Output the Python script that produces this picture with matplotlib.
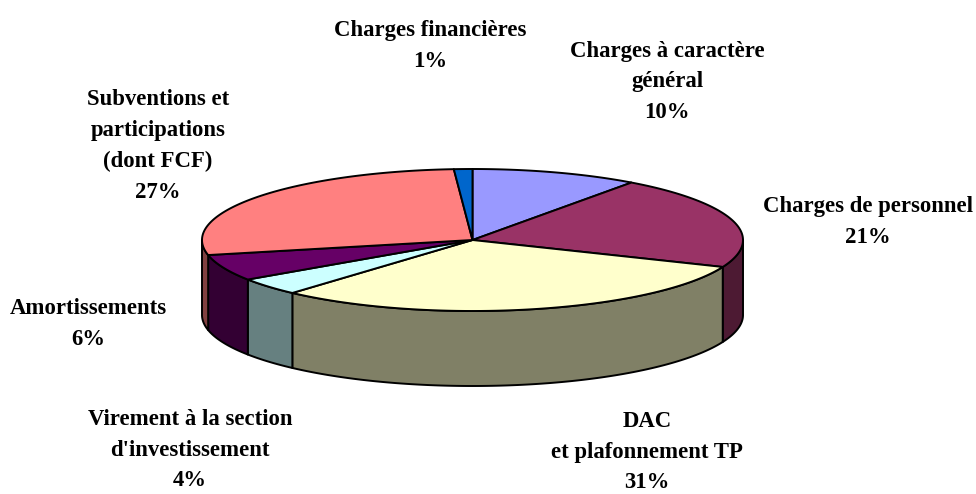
import numpy as np
import matplotlib.pyplot as plt
from matplotlib.patches import Polygon

labels = [
    "Charges à caractère\ngénéral\n10%",
    "Charges de personnel\n21%",
    "DAC\net plafonnement TP\n31%",
    "Virement à la section\nd'investissement\n4%",
    "Amortissements\n6%",
    "Subventions et\nparticipations\n(dont FCF)\n27%",
    "Charges financières\n1%",
]
# read from the slice boundaries, the labels are rounded
values = [10, 21.2, 30.4, 4, 6, 27.3, 1.1]
colors = ["#9999FF", "#993366", "#FFFFCC", "#CCFFFF", "#660066", "#FF8080", "#0066CC"]
side_colors = ["#4D4D80", "#4D1A33", "#808066", "#668080", "#330033", "#804040", "#003366"]
label_pos = [(667, 82), (868, 222), (647, 452), (190, 450), (88, 324), (158, 146), (430, 46)]

CX, CY = 472.5, 240
RX, RY = 270.5, 71
DEPTH = 75

plt.rcParams["font.family"] = ["Liberation Serif", "DejaVu Serif"]
fig = plt.figure(figsize=(9.76, 4.94), dpi=100)
ax = fig.add_axes([0, 0, 1, 1])
ax.set_xlim(0, 976)
ax.set_ylim(494, 0)
ax.axis("off")


def rim(a, b, dy=0):
    # angles in degrees, clockwise from 12 o'clock
    t = np.radians(np.linspace(a, b, max(int(abs(b - a) * 2), 2)))
    return np.column_stack([CX + RX * np.sin(t), CY + dy - RY * np.cos(t)])


edges = np.cumsum([0] + values) * 3.6

# side walls first, only the front half (90-270 deg) can be seen
for i in range(len(values)):
    a = max(edges[i], 90)
    b = min(edges[i + 1], 270)
    if b <= a:
        continue
    pts = np.vstack([rim(a, b), rim(a, b, DEPTH)[::-1]])
    ax.add_patch(Polygon(pts, closed=True, fc=side_colors[i], ec="black", lw=1.4, joinstyle="round"))

# top face
for i in range(len(values)):
    pts = np.vstack([[[CX, CY]], rim(edges[i], edges[i + 1])])
    ax.add_patch(Polygon(pts, closed=True, fc=colors[i], ec="black", lw=1.4, joinstyle="round"))

for lab, (x, y) in zip(labels, label_pos):
    ax.text(x, y, lab, ha="center", va="center", fontsize=16.4, fontweight="bold",
            color="black", linespacing=1.62, clip_on=False)

fig.savefig("out.png", dpi=100, facecolor="white")
